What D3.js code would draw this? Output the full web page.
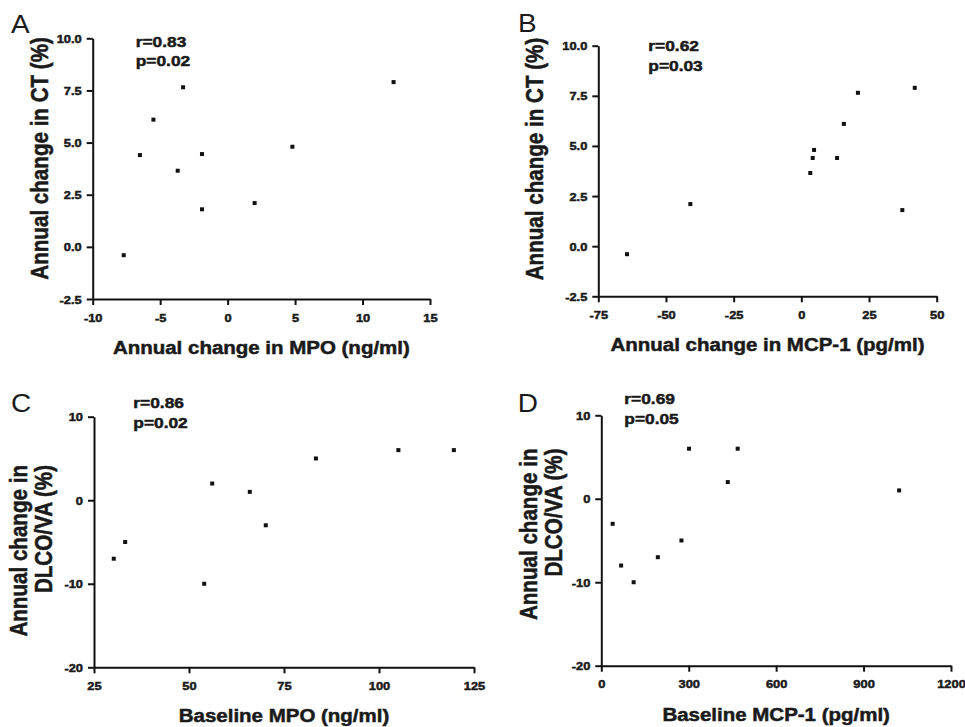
<!DOCTYPE html>
<html>
<head>
<meta charset="utf-8">
<script src="https://cdn.jsdelivr.net/npm/d3@7"></script>
<style>
body { margin: 0; background: #fff; }
svg text { font-family: "Liberation Sans", Arial, sans-serif; fill: #1a1a1a; }
svg text.bold { font-weight: bold; stroke: #1a1a1a; stroke-width: 0.5px; }
</style>
</head>
<body>
<div id="my_dataviz"></div>
<script>
// data
// A: annual change in MPO vs annual change in CT
var mpoChange = [-7.7, -6.5, -5.5, -3.7, -3.3, -1.9, -1.9, 2.0, 4.8, 12.3];
var ctChangeA = [-0.4, 4.4, 6.1, 3.65, 7.65, 4.45, 1.8, 2.1, 4.8, 7.9];

// B: annual change in MCP-1 vs annual change in CT
var mcpChange = [-64.4, -41, 3.3, 4.2, 4.7, 13.2, 15.7, 20.9, 37.3, 41.9];
var ctChangeB = [-0.4, 2.1, 3.65, 4.4, 4.8, 4.4, 6.1, 7.65, 1.8, 7.9];

// C: baseline MPO vs annual change in DLCO/VA
var baselineMpo = [30.2, 33.2, 54, 56.1, 66, 70.2, 83.4, 105.1, 119.7];
var dlcoChangeC = [-7, -5, -10, 2, 1, -3, 5, 6, 6];

// D: baseline MCP-1 vs annual change in DLCO/VA
var baselineMcp = [39, 68, 111, 194, 275, 301, 434, 468, 1022];
var dlcoChangeD = [-3, -8, -10, -7, -5, 6, 2, 6, 1];

// tick values
var ctTicks = [-2.5, 0, 2.5, 5, 7.5, 10];
var dlcoTicks = [-20, -10, 0, 10];
var mpoChangeTicks = [-10, -5, 0, 5, 10, 15];
var mcpChangeTicks = [-75, -50, -25, 0, 25, 50];
var baselineMpoTicks = [25, 50, 75, 100, 125];
var baselineMcpTicks = [0, 300, 600, 900, 1200];

// labels
var panelLetters = ["A", "B", "C", "D"];
var statsText = [["r=0.83", "p=0.02"], ["r=0.62", "p=0.03"], ["r=0.86", "p=0.02"], ["r=0.69", "p=0.05"]];
var xTitles = ["Annual change in MPO (ng/ml)", "Annual change in MCP-1 (pg/ml)", "Baseline MPO (ng/ml)", "Baseline MCP-1 (pg/ml)"];
var yTitleCT = ["Annual change in CT (%)"];
var yTitleDLCO = ["Annual change in", "DLCO/VA (%)"];

// the original figure is a bit wider than tall, so the text is stretched
const sx = 1.12;

// plain hyphen for negatives, like the original
function fmt(spec) {
  var f = d3.format(spec);
  return function (d) { return f(d).replace("\u2212", "-"); };
}

const svg = d3.select("#my_dataviz")
  .append("svg")
  .attr("width", 965)
  .attr("height", 727);

// layout of each panel (plot area in pixels + text spots)
var panels = [
  { x: mpoChange, y: ctChangeA, xTicks: mpoChangeTicks, yTicks: ctTicks, yFmt: fmt(".1f"),
    left: 92.7, right: 430, top: 38.3, bottom: 299,
    letter: [11, 33], stats: [135.7, 46.7], yTitle: yTitleCT, yTitlePos: [48.3, 158.4], yAnchor: "middle" },
  { x: mcpChange, y: ctChangeB, xTicks: mcpChangeTicks, yTicks: ctTicks, yFmt: fmt(".1f"),
    left: 598.3, right: 936.7, top: 45.7, bottom: 296.3,
    letter: [518, 32], stats: [648.3, 51], yTitle: yTitleCT, yTitlePos: [542.7, 159], yAnchor: "middle" },
  { x: baselineMpo, y: dlcoChangeC, xTicks: baselineMpoTicks, yTicks: dlcoTicks, yFmt: fmt("d"),
    left: 94, right: 474, top: 416.7, bottom: 667.3,
    letter: [11, 411.7], stats: [133.3, 408.3], yTitle: yTitleDLCO, yTitlePos: [26.7, 465], yAnchor: "end" },
  { x: baselineMcp, y: dlcoChangeD, xTicks: baselineMcpTicks, yTicks: dlcoTicks, yFmt: fmt("d"),
    left: 601.3, right: 951, top: 415.3, bottom: 665.7,
    letter: [517.7, 411.7], stats: [624.3, 404.3], yTitle: yTitleDLCO, yTitlePos: [536.7, 448.5], yAnchor: "end" }
];

panels.forEach(function (p, i) {
  var x = d3.scaleLinear()
    .domain(d3.extent(p.xTicks))
    .range([p.left, p.right]);
  var y = d3.scaleLinear()
    .domain(d3.extent(p.yTicks))
    .range([p.bottom, p.top]);

  // x axis
  var gx = svg.append("g")
    .attr("transform", "translate(0," + p.bottom + ")")
    .call(d3.axisBottom(x).tickValues(p.xTicks).tickFormat(fmt("d")).tickSize(6).tickSizeOuter(0));
  gx.selectAll("text")
    .attr("class", "bold")
    .attr("y", 22.7)
    .attr("dy", null)
    .attr("transform", "scale(" + sx + ",1)")
    .style("font-size", "11.5px");

  // y axis
  var gy = svg.append("g")
    .attr("transform", "translate(" + p.left + ",0)")
    .call(d3.axisLeft(y).tickValues(p.yTicks).tickFormat(p.yFmt).tickSize(6).tickSizeOuter(0));
  gy.selectAll("text")
    .attr("class", "bold")
    .attr("x", null)
    .attr("dy", "0.35em")
    .attr("transform", "translate(-11,0) scale(" + sx + ",1)")
    .style("font-size", "11.5px");

  svg.selectAll(".domain, .tick line")
    .attr("stroke", "#111")
    .attr("stroke-width", 2);

  // points
  var pts = p.x.map(function (d, k) { return { a: d, b: p.y[k] }; });
  svg.append("g")
    .selectAll("rect")
    .data(pts)
    .enter()
    .append("rect")
    .attr("x", function (d) { return x(d.a) - 2; })
    .attr("y", function (d) { return y(d.b) - 2; })
    .attr("width", 4)
    .attr("height", 4)
    .attr("fill", "#111");

  // panel letter
  svg.append("text")
    .attr("transform", "translate(" + p.letter[0] + "," + p.letter[1] + ") scale(" + sx + ",1)")
    .style("font-size", "25px")
    .text(panelLetters[i]);

  // r and p
  statsText[i].forEach(function (t, k) {
    svg.append("text")
      .attr("class", "bold")
      .attr("transform", "translate(" + p.stats[0] + "," + (p.stats[1] + k * 19.5) + ") scale(" + sx + ",1)")
      .style("font-size", "15.5px")
      .text(t);
  });

  // x title
  svg.append("text")
    .attr("class", "bold")
    .attr("transform", "translate(" + (p.left + p.right) / 2 + "," + (p.bottom + 55) + ") scale(" + sx + ",1)")
    .attr("text-anchor", "middle")
    .style("font-size", "18.3px")
    .text(xTitles[i]);

  // y title (one or two lines)
  p.yTitle.forEach(function (t, k) {
    svg.append("text")
      .attr("class", "bold")
      .attr("transform", "translate(" + (p.yTitlePos[0] + k * 25) + "," + p.yTitlePos[1] + ") scale(" + sx + ",1) rotate(-90)")
      .attr("text-anchor", p.yAnchor)
      .style("font-size", "20.6px")
      .text(t);
  });
});
</script>
</body>
</html>
